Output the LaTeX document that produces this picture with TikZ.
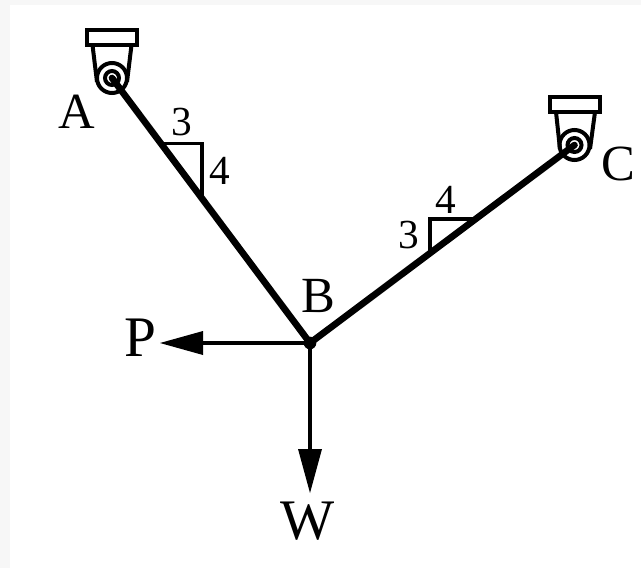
\documentclass[tikz,border=0pt]{standalone}
\usepackage{fontspec}
\setmainfont{Liberation Serif}
\begin{document}
\begin{tikzpicture}[x=0.75pt,y=-0.75pt,
  member/.style={line width=5pt,line cap=round},
  force/.style={line width=3.3pt},
  thin part/.style={line width=2.7pt,line join=miter},
  head/.style={fill=black,draw=none},
  lab/.style={inner sep=0pt,anchor=center},
]
\useasboundingbox (0,0) rectangle (641,568);
\fill[white] (0,0) rectangle (641,568);
\fill[black!3] (0,0) rectangle (641,5);
\fill[black!3] (0,0) rectangle (10,568);
% supports
\draw[thin part,line width=3pt] (87,29.5) rectangle (137,45);
\draw[thin part,line width=3pt] (92.5,45) -- (97,82) (131.5,45) -- (127,82);
\draw[thin part,line width=3pt] (112,78) circle (15);
\draw[thin part,line width=3pt] (112,78) circle (7);
\draw[thin part,line width=3pt] (550,97) rectangle (600,112);
\draw[thin part,line width=3pt] (556,112) -- (560,149) (595,112) -- (590,149);
\draw[thin part,line width=3pt] (574.5,145) circle (15);
\draw[thin part,line width=3pt] (574.5,145) circle (7);
% points
\coordinate (A) at (112,78);
\coordinate (C) at (574.5,145);
\node[circle,fill=black,inner sep=0pt,minimum size=9.5pt] (B) at (310,343) {};
\coordinate (Pend) at (203,343);
\coordinate (Ptip) at (160,343);
\coordinate (Wend) at (310,449);
\coordinate (Wtip) at (310,493);
% slope triangles
\draw[thin part] (161,143.5) -- (202,143.5) -- (202,196);
\draw[thin part] (430,253) -- (430,219) -- (473,219);
% members
\draw[member] (A) -- (B.center);
\draw[member] (C) -- (B.center);
% forces
\draw[force] (B.center) -- (Pend);
\draw[force] (B.center) -- (Wend);
\fill[head] (Ptip) -- (203,331) -- (203,355) -- cycle;
\fill[head] (Wtip) -- (298,449) -- (322,449) -- cycle;
% labels
\node[lab,font=\fontsize{38pt}{38pt}\selectfont] (la) at (76.5,112) {A};
\node[lab,font=\fontsize{38pt}{38pt}\selectfont] (lb) at (318.5,296) {B};
\node[lab,font=\fontsize{38pt}{38pt}\selectfont] (lc) at (618,164) {C};
\node[lab,font=\fontsize{43pt}{43pt}\selectfont] (lp) at (140,338) {P};
\node[lab,font=\fontsize{43pt}{43pt}\selectfont] (lw) at (308,521) {W};
\node[lab,font=\fontsize{31pt}{31pt}\selectfont] (n1) at (182,122) {3};
\node[lab,font=\fontsize{31pt}{31pt}\selectfont] (n2) at (220,171) {4};
\node[lab,font=\fontsize{31pt}{31pt}\selectfont] (n3) at (409,235) {3};
\node[lab,font=\fontsize{31pt}{31pt}\selectfont] (n4) at (446,200) {4};
\end{tikzpicture}
\end{document}
